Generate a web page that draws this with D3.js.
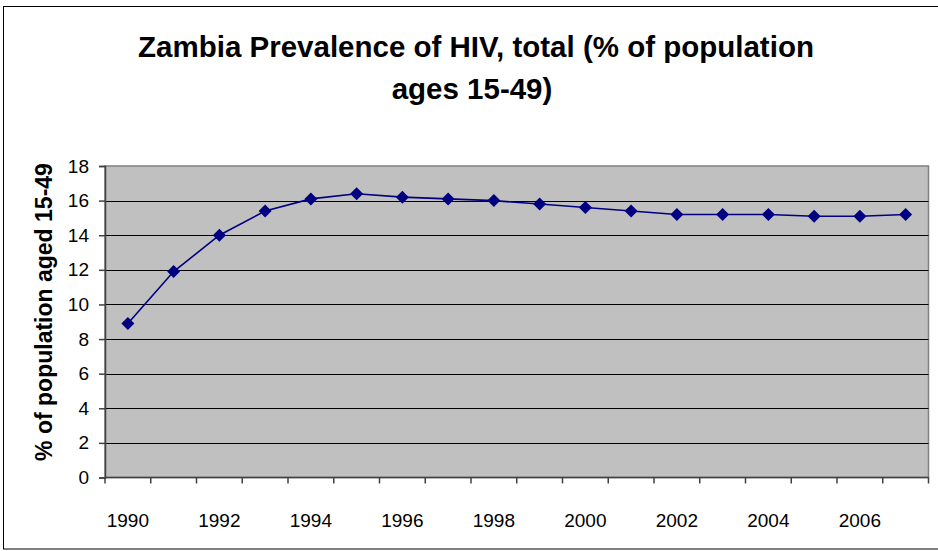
<!DOCTYPE html>
<html><head><meta charset="utf-8">
<script src="https://cdn.jsdelivr.net/npm/d3@7"></script>
<style>body{margin:0;background:#fff;}svg{display:block;font-family:Arial,"Liberation Sans",sans-serif;}</style>
</head><body>
<svg id="c" width="938" height="551"></svg>
<script>
const years = [1990,1991,1992,1993,1994,1995,1996,1997,1998,1999,2000,2001,2002,2003,2004,2005,2006,2007];
const values = [8.9,11.9,14.0,15.4,16.1,16.4,16.2,16.1,16.0,15.8,15.6,15.4,15.2,15.2,15.2,15.1,15.1,15.2];
const yTicks = [0,2,4,6,8,10,12,14,16,18];
const xLabelYears = [1990,1992,1994,1996,1998,2000,2002,2004,2006];
const titleLines = ["Zambia Prevalence of HIV, total (% of population","ages 15-49)"];
const yTitle = "% of population aged 15-49";

const svg = d3.select("#c");
const L=105, R=928.5, T=166, B=477.5;
svg.append("rect").attr("x",3.5).attr("y",6.5).attr("width",940).attr("height",542.5)
  .attr("fill","#fff").attr("stroke","#000").attr("stroke-width",1);

const x = d3.scaleBand().domain(years).range([L,R]).padding(0);
const y = d3.scaleLinear().domain([0,18]).range([B,T]);

svg.append("rect").attr("x",L).attr("y",T).attr("width",R-L).attr("height",B-T)
  .attr("fill","#c0c0c0").attr("stroke","#808080").attr("stroke-width",1.5);

svg.append("g").selectAll("line").data(yTicks.filter(d=>d>0&&d<18)).join("line")
  .attr("x1",L).attr("x2",R).attr("y1",d=>Math.round(y(d))+0.5).attr("y2",d=>Math.round(y(d))+0.5)
  .attr("stroke","#000").attr("stroke-width",1);

// y axis
const ya = svg.append("g").attr("transform",`translate(${L},0)`)
  .call(d3.axisLeft(y).tickValues(yTicks).tickSize(6).tickPadding(10).tickFormat(d3.format("d")));
ya.select(".domain").attr("stroke","#404040").attr("stroke-width",1.5);
ya.selectAll(".tick line").attr("stroke","#404040").attr("stroke-width",1.5);
ya.selectAll("text").attr("font-size",19).attr("fill","#000").attr("font-family","Arial, Liberation Sans, sans-serif");

// x axis with ticks at category boundaries
const xa = svg.append("g").attr("transform",`translate(0,${B})`);
xa.append("line").attr("x1",L).attr("x2",R).attr("stroke","#404040").attr("stroke-width",1.5);
const bounds = years.map(d=>x(d)).concat([R]);
xa.selectAll("line.t").data(bounds).join("line").attr("class","t")
  .attr("x1",d=>d).attr("x2",d=>d).attr("y1",0).attr("y2",6).attr("stroke","#404040").attr("stroke-width",1.5);
xa.selectAll("text").data(xLabelYears).join("text")
  .attr("x",d=>x(d)+x.bandwidth()/2).attr("y",49).attr("text-anchor","middle")
  .attr("font-size",19).text(d=>d);

// line
const line = d3.line().x((d,i)=>x(years[i])+x.bandwidth()/2).y(d=>y(d));
svg.append("path").datum(values).attr("d",line).attr("fill","none").attr("stroke","#000080").attr("stroke-width",1.6);
svg.append("g").selectAll("path").data(values).join("path")
  .attr("transform",(d,i)=>`translate(${x(years[i])+x.bandwidth()/2},${y(d)})`)
  .attr("d","M0,-6.5L6.5,0L0,6.5L-6.5,0Z").attr("fill","#000080");

// title
svg.append("g").selectAll("text").data(titleLines).join("text")
  .attr("x",(d,i)=>i===0?476:472).attr("y",(d,i)=>57+i*42).attr("text-anchor","middle")
  .attr("font-size",29.5).attr("font-weight","bold").text(d=>d);

svg.append("text").attr("transform",`translate(52,312) rotate(-90)`)
  .attr("text-anchor","middle").attr("font-size",23).attr("font-weight","bold").text(yTitle);
</script>
</body></html>
